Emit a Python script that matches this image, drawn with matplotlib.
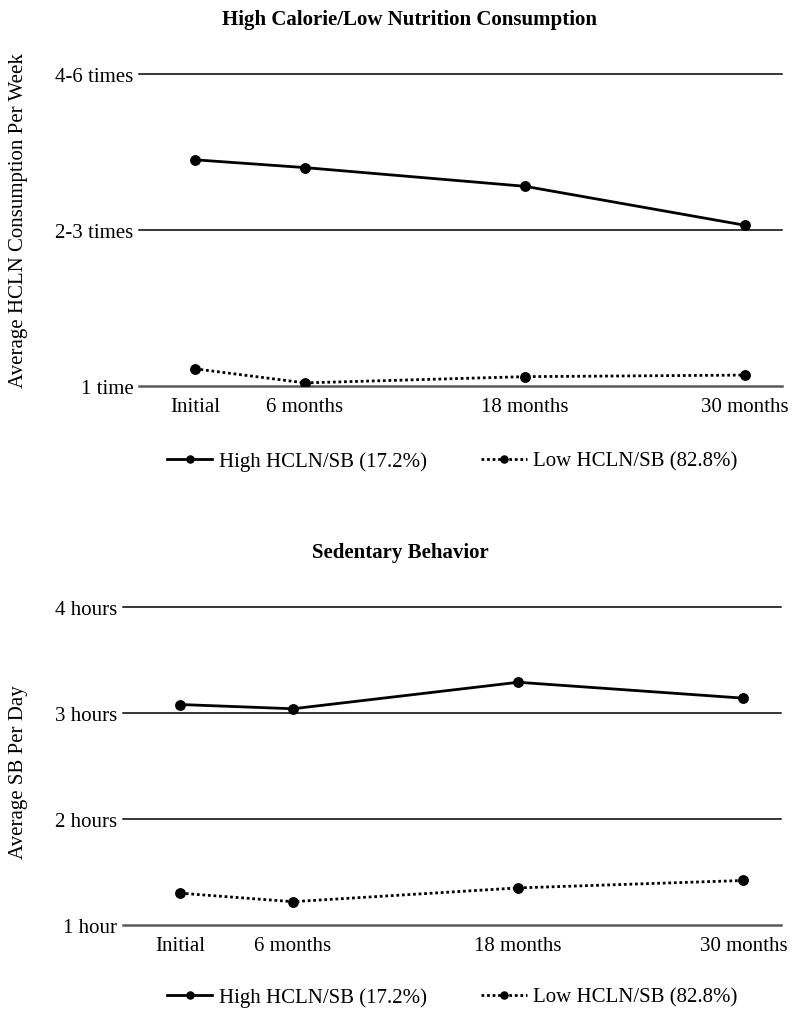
import matplotlib
matplotlib.use("Agg")
import matplotlib.pyplot as plt

plt.rcParams["font.family"] = ["Liberation Serif", "DejaVu Serif"]

months = [0, 6, 18, 30]
time_labels = ["Initial", "6 months", "18 months", "30 months"]
group_labels = ["High HCLN/SB (17.2%)", "Low HCLN/SB (82.8%)"]

# panel 1: HCLN consumption per week (1 = "1 time", 2 = "2-3 times", 3 = "4-6 times")
hcln_levels = [1, 2, 3]
hcln_level_labels = ["1 time", "2-3 times", "4-6 times"]
hcln_high = [2.45, 2.40, 2.28, 2.03]
hcln_low = [1.11, 1.02, 1.06, 1.07]

# panel 2: sedentary hours per day
sb_levels = [1, 2, 3, 4]
sb_level_labels = ["1 hour", "2 hours", "3 hours", "4 hours"]
sb_high = [3.08, 3.04, 3.29, 3.14]
sb_low = [1.30, 1.22, 1.35, 1.42]

FS = 15


def panel(ax, high, low, levels, level_labels):
    for i, lv in enumerate(levels):
        if i == 0:
            ax.axhline(lv, color="#5a5a5a", lw=1.8, clip_on=False, zorder=1)
        else:
            ax.axhline(lv, color="black", lw=1.1, clip_on=False, zorder=1)
    h1, = ax.plot(months, high, color="black", lw=2.0, marker="o", ms=6.8,
                  zorder=3, label=group_labels[0])
    h2, = ax.plot(months, low, color="black", lw=2.0, ls=(0, (1, 1)),
                  marker="o", ms=6.8, zorder=3, label=group_labels[1])
    ax.set_xlim(-3.05, 32.0)
    ax.set_ylim(levels[0], levels[-1])
    ax.set_yticks(levels)
    ax.set_yticklabels(level_labels, fontsize=FS)
    ax.set_xticks(months)
    ax.set_xticklabels(time_labels, fontsize=FS)
    ax.tick_params(axis="both", length=0)
    ax.tick_params(axis="y", pad=4)
    ax.tick_params(axis="x", pad=8)
    for s in ax.spines.values():
        s.set_visible(False)
    return [h1, h2]


fig = plt.figure(figsize=(8, 10.2), dpi=100)

ax1 = fig.add_axes([139 / 800, 1 - 387 / 1020, 643 / 800, 312 / 1020])
handles = panel(ax1, hcln_high, hcln_low, hcln_levels, hcln_level_labels)
fig.text(410 / 800, 1 - 20 / 1020, "High Calorie/Low Nutrition Consumption",
         ha="center", va="center", fontsize=FS, fontweight="bold")
fig.text(19 / 800, 1 - 221 / 1020, "Average HCLN Consumption Per Week",
         rotation=90, ha="center", va="center", fontsize=FS)
fig.legend(handles=handles, loc="center", bbox_to_anchor=(452 / 800, 1 - 462 / 1020),
           ncol=2, frameon=False, fontsize=FS, handlelength=2.2, handletextpad=0.3,
           columnspacing=2.6, markerscale=0.75)

ax2 = fig.add_axes([123 / 800, 1 - 926 / 1020, 658 / 800, 318 / 1020])
handles = panel(ax2, sb_high, sb_low, sb_levels, sb_level_labels)
fig.text(400 / 800, 1 - 553 / 1020, "Sedentary Behavior",
         ha="center", va="center", fontsize=FS, fontweight="bold")
fig.text(19 / 800, 1 - 772 / 1020, "Average SB Per Day",
         rotation=90, ha="center", va="center", fontsize=FS)
fig.legend(handles=handles, loc="center", bbox_to_anchor=(452 / 800, 1 - 998 / 1020),
           ncol=2, frameon=False, fontsize=FS, handlelength=2.2, handletextpad=0.3,
           columnspacing=2.6, markerscale=0.75)

fig.savefig("out.png", dpi=100, facecolor="white")
